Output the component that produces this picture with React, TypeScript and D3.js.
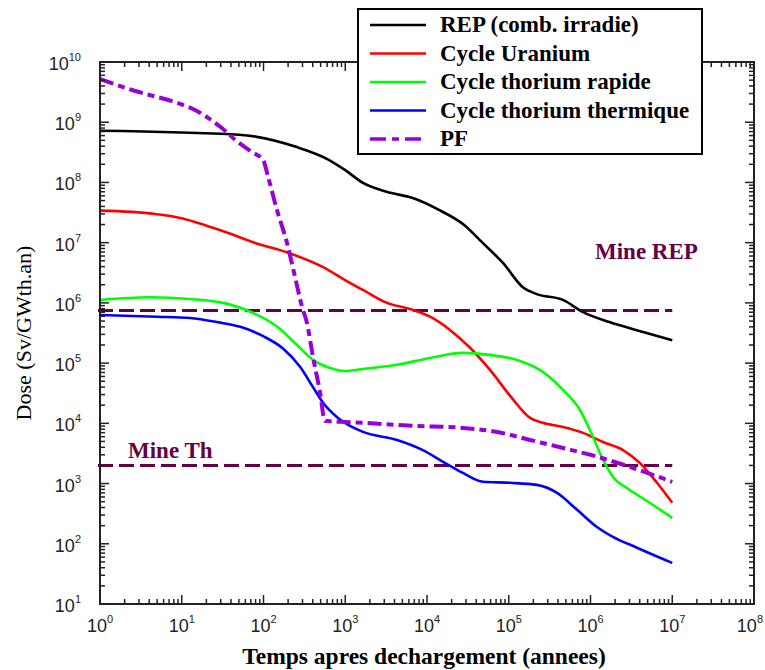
import * as d3 from 'd3';

type Pt = [number, number];

// [time (years), dose (Sv/GWth.an)]
const repData: Pt[] = [
  [1, 7.2e8], [50, 6.2e8], [250, 3.9e8], [620, 2.4e8], [1000, 1.6e8], [1650, 9.8e7],
  [3200, 7e7], [6700, 5.5e7], [14000, 3.5e7], [28000, 2e7], [48000, 9.9e6], [85000, 4.6e6],
  [1.5e5, 1.8e6], [2.2e5, 1.4e6], [4.6e5, 1.12e6], [8e5, 7.1e5], [1.7e6, 4.8e5], [4.4e6, 3.3e5], [1e7, 2.4e5],
];

const uraniumData: Pt[] = [
  [1, 3.4e7], [4.7, 3.0e7], [10, 2.55e7], [19, 1.97e7], [37, 1.45e7], [79, 9.9e6], [200, 6.8e6],
  [520, 4e6], [1140, 2.15e6], [1650, 1.64e6], [3240, 1e6], [6200, 7.9e5], [10900, 5.9e5],
  [19100, 3.56e5], [33600, 1.8e5], [59000, 7.7e4], [1.04e5, 2.86e4], [1.82e5, 1.23e4],
  [2.6e5, 1.02e4], [4.6e5, 8.7e3], [8.1e5, 6.95e3], [1.42e6, 4.9e3], [2.5e6, 3.6e3],
  [4e6, 2.2e3], [6.5e6, 1.03e3], [1e7, 480],
];

const thRapideData: Pt[] = [
  [1, 1.12e6], [4.1, 1.24e6], [12.6, 1.16e6], [32, 1e6], [68, 7.2e5], [146, 4.05e5], [257, 2.0e5],
  [403, 1.13e5], [650, 8.3e4], [990, 7.4e4], [1650, 8e4], [4300, 9.4e4], [10900, 1.22e5],
  [27500, 1.48e5], [59000, 1.37e5], [1.26e5, 1.13e5], [2.4e5, 7.7e4], [4.6e5, 3.6e4],
  [7.4e5, 1.68e4], [1.07e6, 6e3], [1.42e6, 2.5e3], [1.88e6, 1.3e3], [3e6, 790], [5.3e6, 480], [1e7, 270],
];

const thThermiqueData: Pt[] = [
  [1, 6.3e5], [5, 5.9e5], [12.6, 5.6e5], [27, 4.8e5], [52, 4e5], [99, 2.8e5], [173, 1.75e5],
  [280, 8.7e4], [403, 4e4], [535, 2.2e4], [815, 1.23e4], [1650, 7.2e3], [4300, 5.3e3],
  [8900, 3.6e3], [15700, 2.3e3], [27500, 1.5e3], [48400, 1.07e3], [1.04e5, 1.03e3],
  [2.2e5, 950], [3.9e5, 700], [6.8e5, 370], [1.2e6, 190], [1.88e6, 130], [3.7e6, 86], [1e7, 48],
];

const pfData: Pt[] = [
  [1, 5.2e9], [2.7, 3.3e9], [9, 2.07e9], [14.5, 1.6e9], [21, 1.18e9], [31, 8e8], [45, 5.1e8],
  [72, 3.2e8], [99, 2.36e8], [114, 1.23e8], [146, 3.5e7], [194, 9.9e6], [243, 2.7e6],
  [296, 8.6e5], [340, 4.66e5], [403, 1.27e5], [491, 3.3e4], [565, 1.1e4], [863, 1.06e4],
  [1650, 1.02e4], [6700, 9.1e3], [27500, 8.4e3], [72000, 7.2e3], [1.82e5, 5.3e3],
  [4.6e5, 3.9e3], [1.2e6, 2.8e3], [3e6, 1.9e3], [1e7, 1.07e3],
];

const mineREP = 7.5e5;
const mineTh = 2e3;
const mineRange = [1, 1e7];

const xExponents = [0, 1, 2, 3, 4, 5, 6, 7, 8];
const yExponents = [1, 2, 3, 4, 5, 6, 7, 8, 9, 10];

const series = [
  { name: 'REP (comb. irradie)', data: repData, color: '#000000', dash: '' },
  { name: 'Cycle Uranium', data: uraniumData, color: '#ff0000', dash: '' },
  { name: 'Cycle thorium rapide', data: thRapideData, color: '#00ff00', dash: '' },
  { name: 'Cycle thorium thermique', data: thThermiqueData, color: '#0000ff', dash: '' },
  { name: 'PF', data: pfData, color: '#9900d8', dash: '14,5,7,5' },
];

const W = 765;
const H = 670;
const MINE_COLOR = '#660044';
const SERIF = '"Liberation Serif", "Times New Roman", serif';
const SANS = '"Liberation Sans", Arial, sans-serif';

export default function App() {
  const x = d3.scaleLog().domain([1, 1e8]).range([100, 754]);
  const y = d3.scaleLog().domain([10, 1e10]).range([604, 62]);
  const [x0, x1] = x.range();
  const [y0, y1] = y.range();

  const line = d3.line<Pt>().x((d) => x(d[0])).y((d) => y(d[1])).curve(d3.curveMonotoneX);

  const xMinor: number[] = [];
  for (let e = 0; e < 8; e++) for (let k = 2; k <= 9; k++) xMinor.push(k * 10 ** e);
  const yMinor: number[] = [];
  for (let e = 1; e < 10; e++) for (let k = 2; k <= 9; k++) yMinor.push(k * 10 ** e);

  const major = 9;
  const minor = 5;

  return (
    <div style={{ position: 'absolute', left: 0, top: 0 }}>
      <svg width={W} height={H} style={{ display: 'block', background: '#fff' }}>
        {/* mine reference levels */}
        {[mineREP, mineTh].map((v) => (
          <line key={v} x1={x(mineRange[0]) - 2} x2={x(mineRange[1])} y1={y(v)} y2={y(v)}
            stroke={MINE_COLOR} strokeWidth={3} strokeDasharray="15,6" />
        ))}
        <text x={595} y={259} fontFamily={SERIF} fontWeight="bold" fontSize={23} fill={MINE_COLOR}>Mine REP</text>
        <text x={128} y={458} fontFamily={SERIF} fontWeight="bold" fontSize={23} fill={MINE_COLOR}>Mine Th</text>

        {/* curves */}
        {series.map((s) => (
          <path key={s.name} d={line(s.data) ?? ''} fill="none" stroke={s.color}
            strokeWidth={s.dash ? 4 : 2.6} strokeDasharray={s.dash || undefined} />
        ))}

        {/* frame and ticks */}
        <rect x={x0} y={y1} width={x1 - x0} height={y0 - y1} fill="none" stroke="#222" strokeWidth={2} />
        {xMinor.map((v) => (
          <g key={'xm' + v} stroke="#222" strokeWidth={1.5}>
            <line x1={x(v)} x2={x(v)} y1={y0} y2={y0 - minor} />
            <line x1={x(v)} x2={x(v)} y1={y1} y2={y1 + minor} />
          </g>
        ))}
        {xExponents.map((e) => (
          <g key={'xM' + e} stroke="#222" strokeWidth={1.5}>
            <line x1={x(10 ** e)} x2={x(10 ** e)} y1={y0} y2={y0 - major} />
            <line x1={x(10 ** e)} x2={x(10 ** e)} y1={y1} y2={y1 + major} />
          </g>
        ))}
        {yMinor.map((v) => (
          <g key={'ym' + v} stroke="#222" strokeWidth={1.5}>
            <line x1={x0} x2={x0 + minor} y1={y(v)} y2={y(v)} />
            <line x1={x1} x2={x1 - minor} y1={y(v)} y2={y(v)} />
          </g>
        ))}
        {yExponents.map((e) => (
          <g key={'yM' + e} stroke="#222" strokeWidth={1.5}>
            <line x1={x0} x2={x0 + major} y1={y(10 ** e)} y2={y(10 ** e)} />
            <line x1={x1} x2={x1 - major} y1={y(10 ** e)} y2={y(10 ** e)} />
          </g>
        ))}

        {/* tick labels */}
        {xExponents.map((e) => {
          const last = e === xExponents[xExponents.length - 1];
          return (
            <text key={'xl' + e} x={last ? 763 : x(10 ** e)} y={y0 + 28} textAnchor={last ? 'end' : 'middle'}
              fontFamily={SANS} fontSize={18} fill="#222">
              10<tspan dy={-9} fontSize={11}>{e}</tspan>
            </text>
          );
        })}
        {yExponents.map((e) => (
          <text key={'yl' + e} x={81} y={y(10 ** e) + 8} textAnchor="end" fontFamily={SANS} fontSize={18} fill="#222">
            10<tspan dy={-9} fontSize={11}>{e}</tspan>
          </text>
        ))}

        {/* axis titles */}
        <text x={424} y={664} textAnchor="middle" fontFamily={SERIF} fontWeight="bold" fontSize={23.5}>
          Temps apres dechargement (annees)
        </text>
        <text transform={`translate(31,${(y0 + y1) / 2}) rotate(-90)`} textAnchor="middle"
          fontFamily={SERIF} fontSize={22}>
          Dose (Sv/GWth.an)
        </text>

        {/* legend */}
        <rect x={358} y={9} width={344} height={145} fill="#fff" stroke="#000" strokeWidth={2} />
        {series.map((s, i) => (
          <g key={'lg' + s.name}>
            <line x1={370} x2={426} y1={25 + i * 28.5} y2={25 + i * 28.5} stroke={s.color}
              strokeWidth={s.dash ? 3.5 : 2.5} strokeDasharray={s.dash ? '16,6,7,6' : undefined} />
            <text x={440} y={32 + i * 28.5} fontFamily={SERIF} fontWeight="bold" fontSize={23}>{s.name}</text>
          </g>
        ))}
      </svg>
    </div>
  );
}
